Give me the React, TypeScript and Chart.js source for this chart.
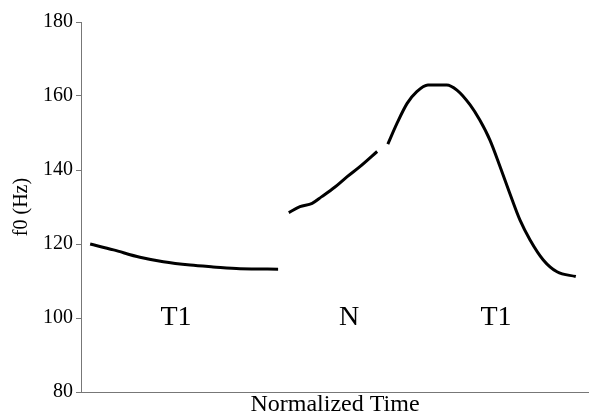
import React, { useEffect, useRef } from "react";
import { Chart, registerables } from "chart.js";

Chart.register(...registerables);

// f0 contour, three voiced stretches (normalized time 0–100, f0 in Hz)
const firstT1Time = [1.8, 6.4, 11.6, 16.2, 21.5, 26.0, 31.3, 38.8];
const firstT1F0 = [120.0, 118.4, 116.4, 115.2, 114.3, 113.8, 113.3, 113.2];

const nasalTime = [40.9, 43.1, 45.5, 47.4, 50.0, 52.4, 54.9, 58.3];
const nasalF0 = [128.5, 130.1, 131.0, 132.8, 135.4, 138.2, 140.9, 145.0];

const secondT1Time = [60.4, 62.2, 64.2, 66.1, 68.3, 72.0, 74.0, 76.6, 78.5, 80.5, 82.5, 84.4, 86.4, 88.4, 91.0, 93.7, 97.4];
const secondT1F0 = [147.0, 152.6, 158.0, 161.2, 163.0, 163.0, 161.6, 157.6, 153.5, 148.1, 140.9, 133.7, 126.5, 121.1, 115.7, 112.5, 111.2];

// Segment labels placed in data coordinates
const segmentNames = ["T1", "N", "T1"];
const segmentTime = [18.7, 52.8, 81.7];
const segmentF0 = [100, 100, 100];

const yTickValues = [80, 100, 120, 140, 160, 180];

const SERIF = "'Liberation Serif', 'Times New Roman', serif";
const AXIS_GRAY = "#777777";

const toPoints = (xs: number[], ys: number[]) => xs.map((x, i) => ({ x, y: ys[i] }));

const segmentLabelPlugin = {
  id: "segmentLabels",
  afterDatasetsDraw(chart: any) {
    const { ctx, scales } = chart;
    ctx.save();
    ctx.font = `28px ${SERIF}`;
    ctx.fillStyle = "#000";
    ctx.textAlign = "center";
    ctx.textBaseline = "middle";
    segmentNames.forEach((name, i) => {
      ctx.fillText(name, scales.x.getPixelForValue(segmentTime[i]), scales.y.getPixelForValue(segmentF0[i]));
    });
    ctx.restore();
  },
};

export default function App() {
  const canvasRef = useRef<HTMLCanvasElement | null>(null);

  useEffect(() => {
    if (!canvasRef.current) return;
    const lineStyle = {
      showLine: true,
      borderColor: "#000",
      backgroundColor: "#000",
      borderWidth: 3,
      pointRadius: 0,
      cubicInterpolationMode: "monotone" as const,
      fill: false,
    };
    const chart = new Chart(canvasRef.current, {
      type: "scatter",
      data: {
        datasets: [
          { label: "T1", data: toPoints(firstT1Time, firstT1F0), ...lineStyle },
          { label: "N", data: toPoints(nasalTime, nasalF0), ...lineStyle },
          { label: "T1 ", data: toPoints(secondT1Time, secondT1F0), ...lineStyle },
        ],
      },
      options: {
        responsive: false,
        animation: false,
        layout: { padding: { top: 22, right: 0, bottom: 0, left: 0 } },
        plugins: {
          legend: { display: false },
          tooltip: { enabled: false },
        },
        scales: {
          x: {
            type: "linear",
            min: 0,
            max: 100,
            ticks: { display: false },
            grid: { display: false, drawTicks: false },
            border: { display: true, color: AXIS_GRAY, width: 1 },
            title: {
              display: true,
              text: "Normalized Time",
              color: "#000",
              font: { family: SERIF, size: 24, lineHeight: 0.8 },
              padding: 0,
            },
            afterFit: (scale: any) => {
              scale.height = 22;
            },
          },
          y: {
            type: "linear",
            min: 80,
            max: 180,
            afterBuildTicks: (scale: any) => {
              scale.ticks = yTickValues.map((v) => ({ value: v }));
            },
            ticks: {
              color: "#000",
              font: { family: SERIF, size: 20 },
              padding: 3,
            },
            grid: {
              drawOnChartArea: false,
              drawTicks: true,
              tickLength: 5,
              color: AXIS_GRAY,
            },
            border: { display: true, color: AXIS_GRAY, width: 1 },
            title: {
              display: true,
              text: "f0 (Hz)",
              color: "#000",
              font: { family: SERIF, size: 20 },
              padding: { top: 10, bottom: 0 },
            },
            afterFit: (scale: any) => {
              scale.width = 81;
            },
          },
        },
      },
      plugins: [segmentLabelPlugin],
    });
    return () => chart.destroy();
  }, []);

  return (
    <div style={{ position: "fixed", left: 0, top: 0, width: 589, height: 414, background: "#fff" }}>
      <canvas ref={canvasRef} width={589} height={414} />
    </div>
  );
}
